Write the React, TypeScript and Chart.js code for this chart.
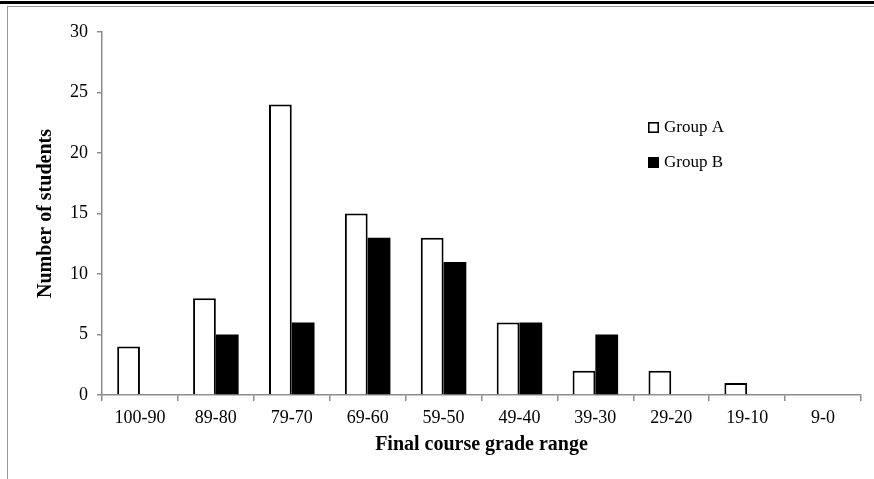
import React, { useEffect, useRef } from "react";
import { Chart, registerables } from "chart.js";

Chart.register(...registerables);

const categories = ["100-90", "89-80", "79-70", "69-60", "59-50", "49-40", "39-30", "29-20", "19-10", "9-0"];
const groupA = [4, 8, 24, 15, 13, 6, 2, 2, 1, 0];
const groupB = [0, 5, 6, 13, 11, 6, 5, 0, 0, 0];
const seriesNames = ["Group A", "Group B"];
const yMax = 30;
const yStep = 5;

const SERIF = "'Liberation Serif', 'Times New Roman', serif";
const AXIS = "#8c8c8c";

const legendPlugin = {
  id: "insideLegend",
  afterDraw(chart: any) {
    const ctx = chart.ctx;
    const x = chart.chartArea.left + 546;
    const ys = [chart.chartArea.top + 95, chart.chartArea.top + 130];
    ctx.save();
    ctx.font = "17px " + SERIF;
    ctx.textBaseline = "middle";
    chart.data.datasets.forEach((ds: any, i: number) => {
      const y = ys[i];
      if (i === 0) {
        ctx.fillStyle = "#fff";
        ctx.fillRect(x, y - 5, 11, 11);
        ctx.lineWidth = 1.6;
        ctx.strokeStyle = "#000";
        ctx.strokeRect(x + 0.8, y - 4.2, 9.4, 9.4);
      } else {
        ctx.fillStyle = "#000";
        ctx.fillRect(x, y - 5, 11, 11);
      }
      ctx.fillStyle = "#000";
      ctx.fillText(ds.label, x + 16, y + 1);
    });
    ctx.restore();
  },
};

export default function App() {
  const ref = useRef<HTMLCanvasElement | null>(null);

  useEffect(() => {
    if (!ref.current) return;
    const chart = new Chart(ref.current, {
      type: "bar",
      data: {
        labels: categories,
        datasets: [
          {
            label: seriesNames[0],
            data: groupA,
            backgroundColor: "#ffffff",
            borderColor: "#000000",
            borderWidth: 2,
            categoryPercentage: 0.6,
            barPercentage: 1.0,
          },
          {
            label: seriesNames[1],
            data: groupB,
            backgroundColor: "#000000",
            borderColor: "#000000",
            borderWidth: 0,
            categoryPercentage: 0.6,
            barPercentage: 1.0,
          },
        ],
      },
      options: {
        responsive: false,
        animation: false,
        layout: { padding: { left: 0, right: 13, top: 32, bottom: 0 } },
        plugins: {
          legend: { display: false },
          tooltip: { enabled: false },
        },
        scales: {
          x: {
            grid: {
              offset: true,
              drawOnChartArea: false,
              drawTicks: true,
              tickLength: 6,
              color: AXIS,
              lineWidth: 1.5,
            },
            border: { color: AXIS, width: 1.5 },
            ticks: {
              color: "#000",
              font: { family: SERIF, size: 18 },
              padding: 6,
              maxRotation: 0,
              autoSkip: false,
            },
            title: {
              display: true,
              text: "Final course grade range",
              color: "#000",
              font: { family: SERIF, size: 20, weight: "bold" },
              padding: { top: 0, bottom: 22 },
            },
            afterFit(scale: any) {
              scale.height = 84;
            },
          },
          y: {
            min: 0,
            max: yMax,
            ticks: {
              stepSize: yStep,
              color: "#000",
              font: { family: SERIF, size: 18 },
              padding: 9,
            },
            grid: {
              drawOnChartArea: false,
              drawTicks: true,
              tickLength: 5,
              color: AXIS,
              lineWidth: 1.5,
            },
            border: { color: AXIS, width: 1.5 },
            title: {
              display: true,
              text: "Number of students",
              color: "#000",
              font: { family: SERIF, size: 20, weight: "bold" },
              padding: { top: 34, bottom: 0 },
            },
            afterFit(scale: any) {
              scale.width = 102;
            },
          },
        },
      },
      plugins: [legendPlugin],
    });
    return () => chart.destroy();
  }, []);

  return (
    <div style={{ position: "absolute", left: 0, top: 0, width: 874, height: 479, background: "#fff" }}>
      <div style={{ position: "absolute", left: 0, top: 1, width: 874, height: 3, background: "#000" }} />
      <div style={{ position: "absolute", left: 7, top: 6, width: 867, height: 1, background: "#999" }} />
      <div style={{ position: "absolute", left: 7, top: 6, width: 1, height: 473, background: "#999" }} />
      <canvas ref={ref} width={874} height={479} style={{ position: "absolute", left: 0, top: 0 }} />
    </div>
  );
}
